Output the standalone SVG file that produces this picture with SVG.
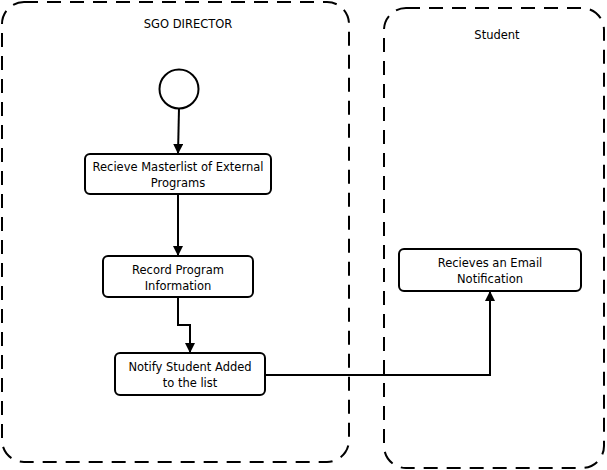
<svg xmlns="http://www.w3.org/2000/svg" width="607" height="470" viewBox="0 0 607 470">
<style>
.lane{fill:none;stroke:#000;stroke-width:2;stroke-dasharray:14 9}
.box{fill:#fff;stroke:#000;stroke-width:2}
.t{font-family:"DejaVu Sans",sans-serif;font-size:11.5px;fill:#000;text-anchor:middle}
.c{fill:none;stroke:#000;stroke-width:2}
</style>
<defs>
<marker id="ah" viewBox="0 0 10 10" refX="10" refY="5" markerWidth="10" markerHeight="10" markerUnits="userSpaceOnUse" orient="auto">
<path d="M0,0 L10,5 L0,10 Z" fill="#000"/>
</marker>
</defs>
<rect width="607" height="470" fill="#fff"/>
<g id="lane-sgo">
<rect class="lane" x="2" y="2" width="347" height="460" rx="22"/>
<text class="t" x="188" y="28">SGO DIRECTOR</text>
</g>
<g id="lane-student">
<rect class="lane" x="384" y="8" width="220" height="460" rx="22"/>
<text class="t" x="497" y="39">Student</text>
</g>
<g id="connectors">
<path class="c" d="M179,108 L178,154" marker-end="url(#ah)"/>
<path class="c" d="M178,194 L178,256" marker-end="url(#ah)"/>
<path class="c" d="M178,297 L178,325 L190,325 L190,353" marker-end="url(#ah)"/>
<path class="c" d="M265,375 L490,375 L490,291" marker-end="url(#ah)"/>
</g>
<g id="start">
<circle cx="179" cy="89" r="19.5" fill="#fff" stroke="#000" stroke-width="2"/>
</g>
<g id="n1">
<rect class="box" x="85" y="154" width="186" height="40" rx="5"/>
<text class="t" x="178" y="171">Recieve Masterlist of External</text>
<text class="t" x="178" y="187">Programs</text>
</g>
<g id="n2">
<rect class="box" x="103" y="256" width="150" height="41" rx="5"/>
<text class="t" x="178" y="274">Record Program</text>
<text class="t" x="178" y="290">Information</text>
</g>
<g id="n3">
<rect class="box" x="115" y="353" width="150" height="42" rx="5"/>
<text class="t" x="190" y="371">Notify Student Added</text>
<text class="t" x="190" y="387">to the list</text>
</g>
<g id="n4">
<rect class="box" x="399" y="249" width="182" height="42" rx="5"/>
<text class="t" x="490" y="267">Recieves an Email</text>
<text class="t" x="490" y="283">Notification</text>
</g>
</svg>
